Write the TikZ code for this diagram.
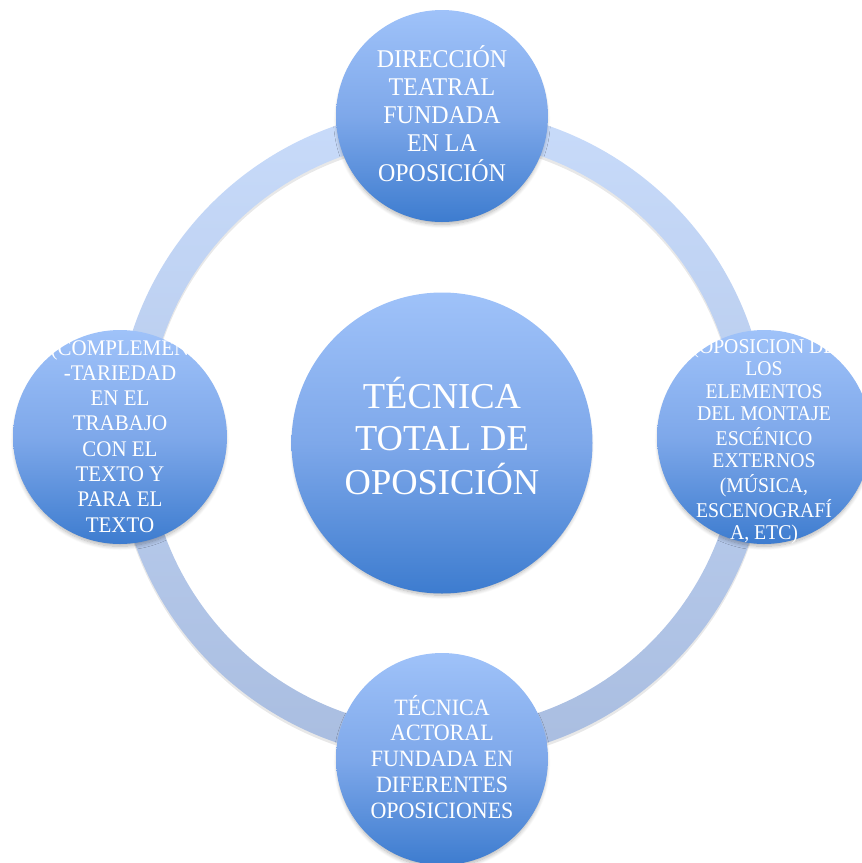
\documentclass[tikz,border=0pt]{standalone}
\usepackage{fontspec}
\setmainfont{Liberation Serif}
\newfontfamily\narrow[FakeStretch=0.94]{Liberation Serif}
\usetikzlibrary{shadows.blur}
\definecolor{ctop}{HTML}{9FC2F9}
\definecolor{cmid}{HTML}{7EA8EA}
\definecolor{cbot}{HTML}{3D7CCF}
\definecolor{rtop}{HTML}{C8DBFA}
\definecolor{rbot}{HTML}{A9BDE0}
\begin{document}
\begin{tikzpicture}[x=1pt,y=-1pt,
  bub/.style={circle, inner sep=0pt, minimum size=#1, top color=ctop, bottom color=cbot, middle color=cmid,
    blur shadow={shadow xshift=0pt, shadow yshift=-4pt, shadow scale=0.985, shadow blur radius=4pt, shadow opacity=30, shadow blur steps=8}},
  lbl/.style={text=white, inner sep=0pt, anchor=base}]
\useasboundingbox (0,0) rectangle (862,863);
\clip (0,0) rectangle (862,863);
\coordinate (c) at (442,434);
\coordinate (cs) at (442,437);
% ring shadow and ring
\fill[black, opacity=0.09, even odd rule] (cs) circle[radius=326pt] (cs) circle[radius=295pt];
\path[even odd rule, top color=rtop, bottom color=rbot] (c) circle[radius=326pt] (c) circle[radius=295pt];
% circles
\node[bub=301pt] (ctr) at (442,443) {};
\node[bub=212pt] (top) at (442,116) {};
\node[bub=212pt] (bot) at (442,759) {};
\node[bub=214pt] (lft) at (120,437) {};
\node[bub=214pt] (rgt) at (764,437) {};
% texts
\node[lbl] (tctr) at (442,408) {\fontsize{36.5}{42.5}\selectfont\begin{tabular}[t]{@{}c@{}}TÉCNICA\\TOTAL DE\\OPOSICIÓN\end{tabular}};
\node[lbl] (ttop) at (442,67) {\narrow\fontsize{25.5}{28}\selectfont\begin{tabular}[t]{@{}c@{}}DIRECCIÓN\\TEATRAL\\FUNDADA\\EN LA\\OPOSICIÓN\end{tabular}};
\node[lbl] (tbot) at (442,715) {\narrow\fontsize{23.4}{25.8}\selectfont\begin{tabular}[t]{@{}c@{}}TÉCNICA\\ACTORAL\\FUNDADA EN\\DIFERENTES\\OPOSICIONES\end{tabular}};
\node[lbl] (tlft) at (120,355) {\narrow\fontsize{22.3}{25.3}\selectfont\begin{tabular}[t]{@{}c@{}}(COMPLEMEN\\-TARIEDAD\\EN EL\\TRABAJO\\CON EL\\TEXTO Y\\PARA EL\\TEXTO\end{tabular}};
\node[lbl] (trgt) at (764,353) {\narrow\fontsize{21}{22.5}\selectfont\begin{tabular}[t]{@{}c@{}}(OPOSICION DE\\LOS\\ELEMENTOS\\DEL MONTAJE\\ESCÉNICO\\EXTERNOS\\(MÚSICA,\\ESCENOGRAFÍ\\A, ETC)\end{tabular}};
\end{tikzpicture}
\end{document}
